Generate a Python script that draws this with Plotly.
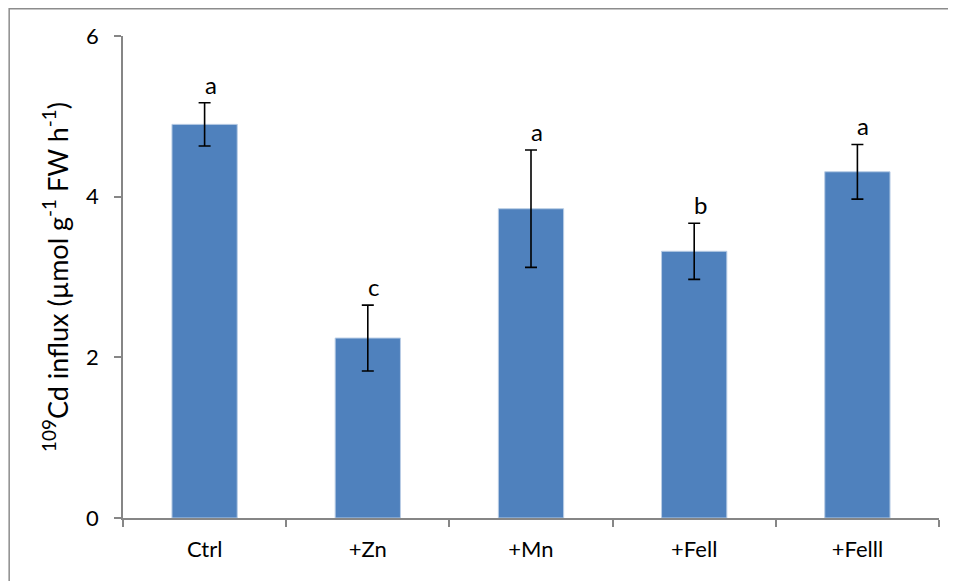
import plotly.graph_objects as go

categories = ["Ctrl", "+Zn", "+Mn", "+FeII", "+FeIII"]
tick_labels = ["Ctrl", "+Zn", "+Mn", "+Fell", "+Felll"]
influx = [4.90, 2.24, 3.85, 3.32, 4.31]
err = [0.27, 0.41, 0.73, 0.35, 0.34]
letters = ["a", "c", "a", "b", "a"]

FONT = "Lato"
AXIS_COLOR = "#868686"

fig = go.Figure()
fig.add_trace(go.Bar(
    x=categories, y=influx,
    marker=dict(color="#4F81BD", line=dict(color="#B9CDE5", width=1)),
    error_y=dict(type="data", array=err, visible=True, color="black",
                 thickness=1.6, width=6),
    width=0.4,
))

for c, v, e, l in zip(categories, influx, err, letters):
    fig.add_annotation(x=c, y=v + e, text=l, showarrow=False,
                       xanchor="center", yanchor="bottom", xshift=6, yshift=2,
                       font=dict(family=FONT, size=24, color="black"))

# outer border of the chart area
fig.add_shape(type="rect", xref="paper", yref="paper",
              x0=-0.1395, x1=1.2, y0=-0.3, y1=1.0565,
              line=dict(color="#8c8c8c", width=1.5), fillcolor="rgba(0,0,0,0)",
              layer="below")

fig.update_layout(
    width=956, height=581,
    margin=dict(l=115, r=25, t=28, b=71),
    paper_bgcolor="white", plot_bgcolor="white",
    showlegend=False,
    font=dict(family=FONT, size=22, color="black"),
    xaxis=dict(
        tickmode="array", tickvals=categories, ticktext=tick_labels,
        showline=True, linecolor=AXIS_COLOR, linewidth=1.5,
        ticks="outside", tickson="boundaries", ticklen=7, tickcolor=AXIS_COLOR,
        tickwidth=1.5, showgrid=False, ticklabelstandoff=11,
        tickfont=dict(family=FONT, size=22, color="black"),
    ),
    yaxis=dict(
        range=[0, 6], tickvals=[0, 2, 4, 6], showline=True, linecolor=AXIS_COLOR,
        linewidth=1.5, ticks="outside", ticklen=7, tickcolor=AXIS_COLOR,
        tickwidth=1.5, showgrid=False, zeroline=False, ticklabelstandoff=11,
        tickfont=dict(family=FONT, size=22, color="black"),
        title=dict(text="<sup>109</sup>Cd influx (µmol g<sup>-1</sup> FW h<sup>-1</sup>)",
                   font=dict(family=FONT, size=27, color="black"), standoff=10),
    ),
)

fig.write_html("out.html")
